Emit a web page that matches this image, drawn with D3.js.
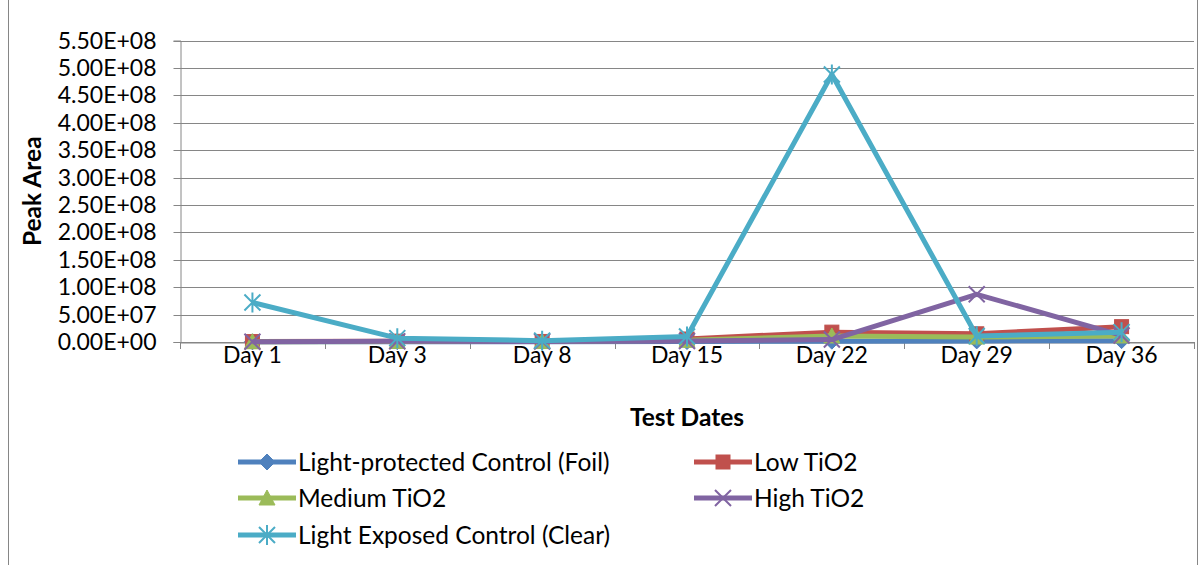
<!DOCTYPE html>
<html>
<head>
<meta charset="utf-8">
<script src="https://cdn.jsdelivr.net/npm/d3@7/dist/d3.min.js"></script>
<style>
  html, body { margin: 0; padding: 0; background: #fff; }
  svg { display: block; }
  text { font-family: Lato, "Open Sans", sans-serif; fill: #000; }
</style>
</head>
<body>
<svg id="chart" width="1202" height="565"></svg>
<script>
// Test dates along the x axis
const categories = ["Day 1", "Day 3", "Day 8", "Day 15", "Day 22", "Day 29", "Day 36"];

// Peak area per sample type
const foil   = [3e5, 5e5, 4e5, 8e5, 1.5e6, 2e6, 2.5e6];
const lowTi  = [8e5, 1.5e6, 1.0e6, 5.5e6, 1.8e7, 1.5e7, 2.8e7];
const medTi  = [5e5, 1.0e6, 8e5, 3e6, 1.1e7, 9e6, 1.1e7];
const highTi = [6e5, 1.2e6, 9e5, 1.8e6, 4.5e6, 8.7e7, 1.2e7];
const clear  = [7.2e7, 7.0e6, 2.5e6, 1.0e7, 4.88e8, 1.1e7, 1.8e7];

const seriesNames = ["Light-protected Control (Foil)", "Low TiO2", "Medium TiO2", "High TiO2", "Light Exposed Control (Clear)"];
const seriesValues = [foil, lowTi, medTi, highTi, clear];
const seriesColors = ["#4F81BD", "#C0504D", "#9BBB59", "#8064A2", "#4BACC6"];
const seriesMarkers = ["diamond", "square", "triangle", "x", "star"];

// Y axis ticks
const yTicks = d3.range(0, 5.5e8 + 1, 5e7);

const TICK_FONT = 23;
const TEXT_FONT = 24.5;
const svg = d3.select("#chart");

// chart frame
svg.append("rect")
  .attr("x", 8.5).attr("y", -10).attr("width", 1189).attr("height", 585)
  .attr("fill", "none").attr("stroke", "#868686").attr("stroke-width", 1);

const plot = { left: 180, right: 1194, top: 40.5, bottom: 342 };

const x = d3.scaleBand().domain(categories).range([plot.left, plot.right]);
const y = d3.scaleLinear().domain([0, 5.5e8]).range([plot.bottom, plot.top]);

const fmt = v => {
  const [m, e] = v.toExponential(2).split("e");
  const sign = e[0] === "-" ? "-" : "+";
  const digits = e.replace(/[+-]/, "").padStart(2, "0");
  return m + "E" + sign + digits;
};

// gridlines
svg.append("g")
  .selectAll("line").data(yTicks).join("line")
  .attr("x1", plot.left).attr("x2", plot.right)
  .attr("y1", d => Math.round(y(d)) + 0.5).attr("y2", d => Math.round(y(d)) + 0.5)
  .attr("stroke", "#868686").attr("stroke-width", 1);

// y axis
const yAxis = svg.append("g")
  .attr("transform", `translate(${plot.left + 0.5},0)`)
  .call(d3.axisLeft(y).tickValues(yTicks).tickFormat(fmt).tickSize(7).tickPadding(17))
  .call(g => g.select(".domain").attr("stroke", "#868686"))
  .call(g => g.selectAll(".tick line").attr("stroke", "#868686"));
yAxis.selectAll(".tick").attr("transform", d => `translate(0,${Math.round(y(d)) + 0.5})`);
yAxis.selectAll("text").attr("font-size", TICK_FONT).attr("font-family", "Lato, sans-serif").attr("fill", "#000");

// x axis
const xAxis = svg.append("g")
  .attr("transform", `translate(0,${plot.bottom + 0.5})`)
  .call(d3.axisBottom(x).tickSize(0).tickPadding(4))
  .call(g => g.select(".domain").attr("stroke", "#868686"));
xAxis.selectAll("text").attr("font-size", TICK_FONT).attr("font-family", "Lato, sans-serif").attr("fill", "#000");

// category separators
const bounds = categories.map(c => x(c)).concat([plot.right]);
svg.append("g")
  .selectAll("line").data(bounds).join("line")
  .attr("x1", d => Math.round(d) + 0.5).attr("x2", d => Math.round(d) + 0.5)
  .attr("y1", plot.bottom).attr("y2", plot.bottom + 7)
  .attr("stroke", "#868686");

// axis titles
svg.append("text")
  .attr("transform", `translate(41,${(plot.top + plot.bottom) / 2}) rotate(-90)`)
  .attr("text-anchor", "middle")
  .attr("font-size", TEXT_FONT).attr("font-weight", "bold")
  .text("Peak Area");

svg.append("text")
  .attr("x", (plot.left + plot.right) / 2).attr("y", 426)
  .attr("text-anchor", "middle")
  .attr("font-size", TEXT_FONT).attr("font-weight", "bold")
  .text("Test Dates");

// marker drawing
function drawMarker(g, type, color) {
  if (type === "diamond") {
    g.append("path").attr("d", "M0,-8L8,0L0,8L-8,0Z").attr("fill", color).attr("stroke", color);
  } else if (type === "square") {
    g.append("rect").attr("x", -7).attr("y", -7).attr("width", 14).attr("height", 14)
      .attr("fill", color).attr("stroke", color);
  } else if (type === "triangle") {
    g.append("path").attr("d", "M0,-8L8,7L-8,7Z").attr("fill", color).attr("stroke", color);
  } else if (type === "x") {
    g.append("path").attr("d", "M-8,-8L8,8M-8,8L8,-8").attr("stroke", color).attr("stroke-width", 2).attr("fill", "none");
  } else if (type === "star") {
    g.append("path").attr("d", "M-8,-8L8,8M-8,8L8,-8M0,-10L0,10").attr("stroke", color).attr("stroke-width", 2).attr("fill", "none");
  }
}

const line = d3.line()
  .x((d, i) => x(categories[i]) + x.bandwidth() / 2)
  .y(d => y(d));

seriesValues.forEach((vals, si) => {
  const g = svg.append("g");
  g.append("path")
    .datum(vals)
    .attr("d", line)
    .attr("fill", "none")
    .attr("stroke", seriesColors[si])
    .attr("stroke-width", 5)
    .attr("stroke-linejoin", "round");
  vals.forEach((v, i) => {
    const m = g.append("g")
      .attr("transform", `translate(${x(categories[i]) + x.bandwidth() / 2},${y(v)})`);
    drawMarker(m, seriesMarkers[si], seriesColors[si]);
  });
});

// legend
const legendPos = [
  { x: 238, y: 462 }, { x: 694, y: 462 },
  { x: 238, y: 498 }, { x: 694, y: 498 },
  { x: 238, y: 535 }
];
seriesNames.forEach((name, i) => {
  const p = legendPos[i];
  const g = svg.append("g").attr("transform", `translate(${p.x},${p.y})`);
  g.append("line").attr("x1", 0).attr("x2", 58).attr("y1", 0).attr("y2", 0)
    .attr("stroke", seriesColors[i]).attr("stroke-width", 5);
  const m = g.append("g").attr("transform", "translate(29,0)");
  drawMarker(m, seriesMarkers[i], seriesColors[i]);
  g.append("text").attr("x", 60).attr("y", 0).attr("dy", "0.35em")
    .attr("font-size", TEXT_FONT).text(name);
});
</script>
</body>
</html>
